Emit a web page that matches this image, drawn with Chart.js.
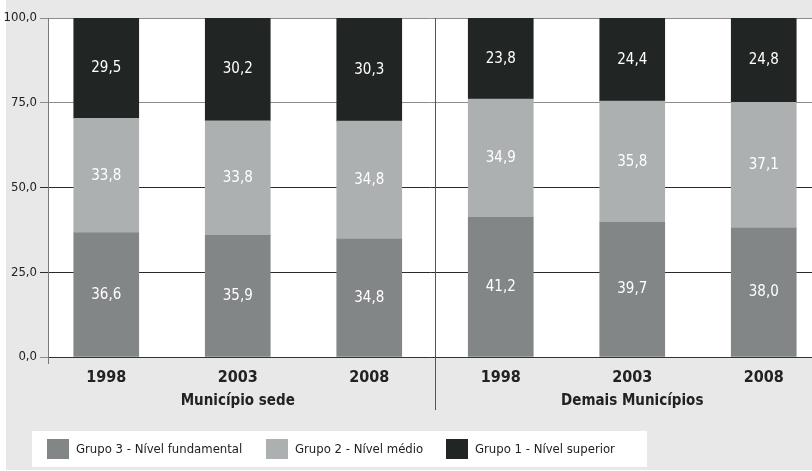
<!DOCTYPE html>
<html>
<head>
<meta charset="utf-8">
<script src="https://cdn.jsdelivr.net/npm/chart.js@4/dist/chart.umd.min.js"></script>
<style>
  html, body { margin: 0; padding: 0; background: #fff; overflow: hidden; }
  #bg { position: absolute; left: 6px; top: 0; width: 806px; height: 470px; background: #e8e8e8; }
  #wrap { position: absolute; left: 0; top: 0; width: 812px; height: 471px; }
</style>
</head>
<body>
<div id="bg"></div>
<div id="wrap"><canvas id="myChart" width="812" height="471"></canvas></div>
<script>
// data
const years = ['1998', '2003', '2008', '1998', '2003', '2008'];
const groups = ['Município sede', 'Demais Municípios'];
const groupAt = [1, 4];
const fundamental = [36.6, 35.9, 34.8, 41.2, 39.7, 38.0];
const medio = [33.8, 33.8, 34.8, 34.9, 35.8, 37.1];
const superior = [29.5, 30.2, 30.3, 23.8, 24.4, 24.8];
const yTicks = [0, 25, 50, 75, 100];

const FONT = '"DejaVu Sans Condensed", "Liberation Sans Narrow", sans-serif';
const fmt = v => v.toFixed(1).replace('.', ',');
const toPts = arr => arr.map((v, i) => ({ x: i, y: v }));

// white plot area, separator line, bar labels, group names, legend
const extras = {
  id: 'extras',
  beforeDraw(chart) {
    const { ctx, chartArea: a } = chart;
    ctx.save();
    ctx.fillStyle = '#ffffff';
    ctx.fillRect(a.left, a.top, a.right - a.left, a.bottom - a.top);
    ctx.restore();
  },
  afterDatasetsDraw(chart) {
    const { ctx, chartArea: a } = chart;
    const xs = chart.scales.x;
    ctx.save();
    ctx.fillStyle = '#ffffff';
    ctx.font = '15px ' + FONT;
    ctx.textAlign = 'center';
    ctx.textBaseline = 'middle';
    chart.data.datasets.forEach((ds, di) => {
      chart.getDatasetMeta(di).data.forEach((bar, i) => {
        ctx.fillText(fmt(ds.data[i].y), bar.x, (bar.y + bar.base) / 2);
      });
    });
    // group names under the middle year
    ctx.fillStyle = '#222';
    ctx.font = 'bold 15px ' + FONT;
    groups.forEach((g, i) => ctx.fillText(g, xs.getPixelForValue(groupAt[i]), 401));
    // group separator
    const sx = Math.round(xs.getPixelForValue(2.5)) + 0.5;
    ctx.strokeStyle = '#555';
    ctx.lineWidth = 1;
    ctx.beginPath();
    ctx.moveTo(sx, a.top);
    ctx.lineTo(sx, 410);
    ctx.stroke();
    // y axis runs a little below the x axis
    ctx.strokeStyle = '#777';
    ctx.beginPath();
    ctx.moveTo(a.left + 0.5, a.bottom);
    ctx.lineTo(a.left + 0.5, a.bottom + 7);
    ctx.stroke();
    ctx.restore();
  },
  afterDraw(chart) {
    const { ctx } = chart;
    ctx.save();
    ctx.fillStyle = '#ffffff';
    ctx.fillRect(32, 431, 615, 36);
    const itemX = [47, 266, 446];
    ctx.font = '13px ' + FONT;
    ctx.textBaseline = 'middle';
    chart.data.datasets.forEach((ds, di) => {
      ctx.fillStyle = ds.backgroundColor;
      ctx.fillRect(itemX[di], 439, 22, 20);
      ctx.fillStyle = '#222';
      ctx.fillText(ds.label, itemX[di] + 29, 450);
    });
    ctx.restore();
  }
};

new Chart(document.getElementById('myChart').getContext('2d'), {
  type: 'bar',
  data: {
    datasets: [
      { label: 'Grupo 3 - Nível fundamental', data: toPts(fundamental), backgroundColor: '#828686' },
      { label: 'Grupo 2 - Nível médio', data: toPts(medio), backgroundColor: '#adb0b0' },
      { label: 'Grupo 1 - Nível superior', data: toPts(superior), backgroundColor: '#212624' }
    ]
  },
  options: {
    responsive: false,
    animation: false,
    events: [],
    barThickness: 65,
    layout: { padding: { top: 18, left: 0, right: 0, bottom: 0 } },
    plugins: { legend: { display: false }, tooltip: { enabled: false } },
    scales: {
      x: {
        type: 'linear',
        stacked: true,
        offset: false,
        min: -0.443,
        max: 5.367,
        afterBuildTicks: s => { s.ticks = years.map((y, i) => ({ value: i })); },
        afterFit: s => { s.height = 114; },
        grid: { display: false, drawTicks: false },
        border: { color: '#333', width: 1 },
        ticks: {
          padding: 11,
          maxRotation: 0,
          minRotation: 0,
          autoSkip: false,
          color: '#222',
          font: { family: FONT, size: 16, weight: 'bold' },
          callback: (v, i) => years[i]
        }
      },
      y: {
        stacked: true,
        min: 0,
        max: 100,
        afterBuildTicks: s => { s.ticks = yTicks.map(v => ({ value: v })); },
        afterFit: s => { s.width = 48; },
        grid: {
          tickLength: 8,
          color: c => (c.tick && (c.tick.value === 25 || c.tick.value === 50)) ? '#2a2a2a' : '#8c8c8c'
        },
        border: { color: '#7a7a7a', width: 1 },
        ticks: {
          padding: 3,
          color: '#222',
          font: { family: FONT, size: 13 },
          callback: v => fmt(v)
        }
      }
    }
  },
  plugins: [extras]
});
</script>
</body>
</html>
